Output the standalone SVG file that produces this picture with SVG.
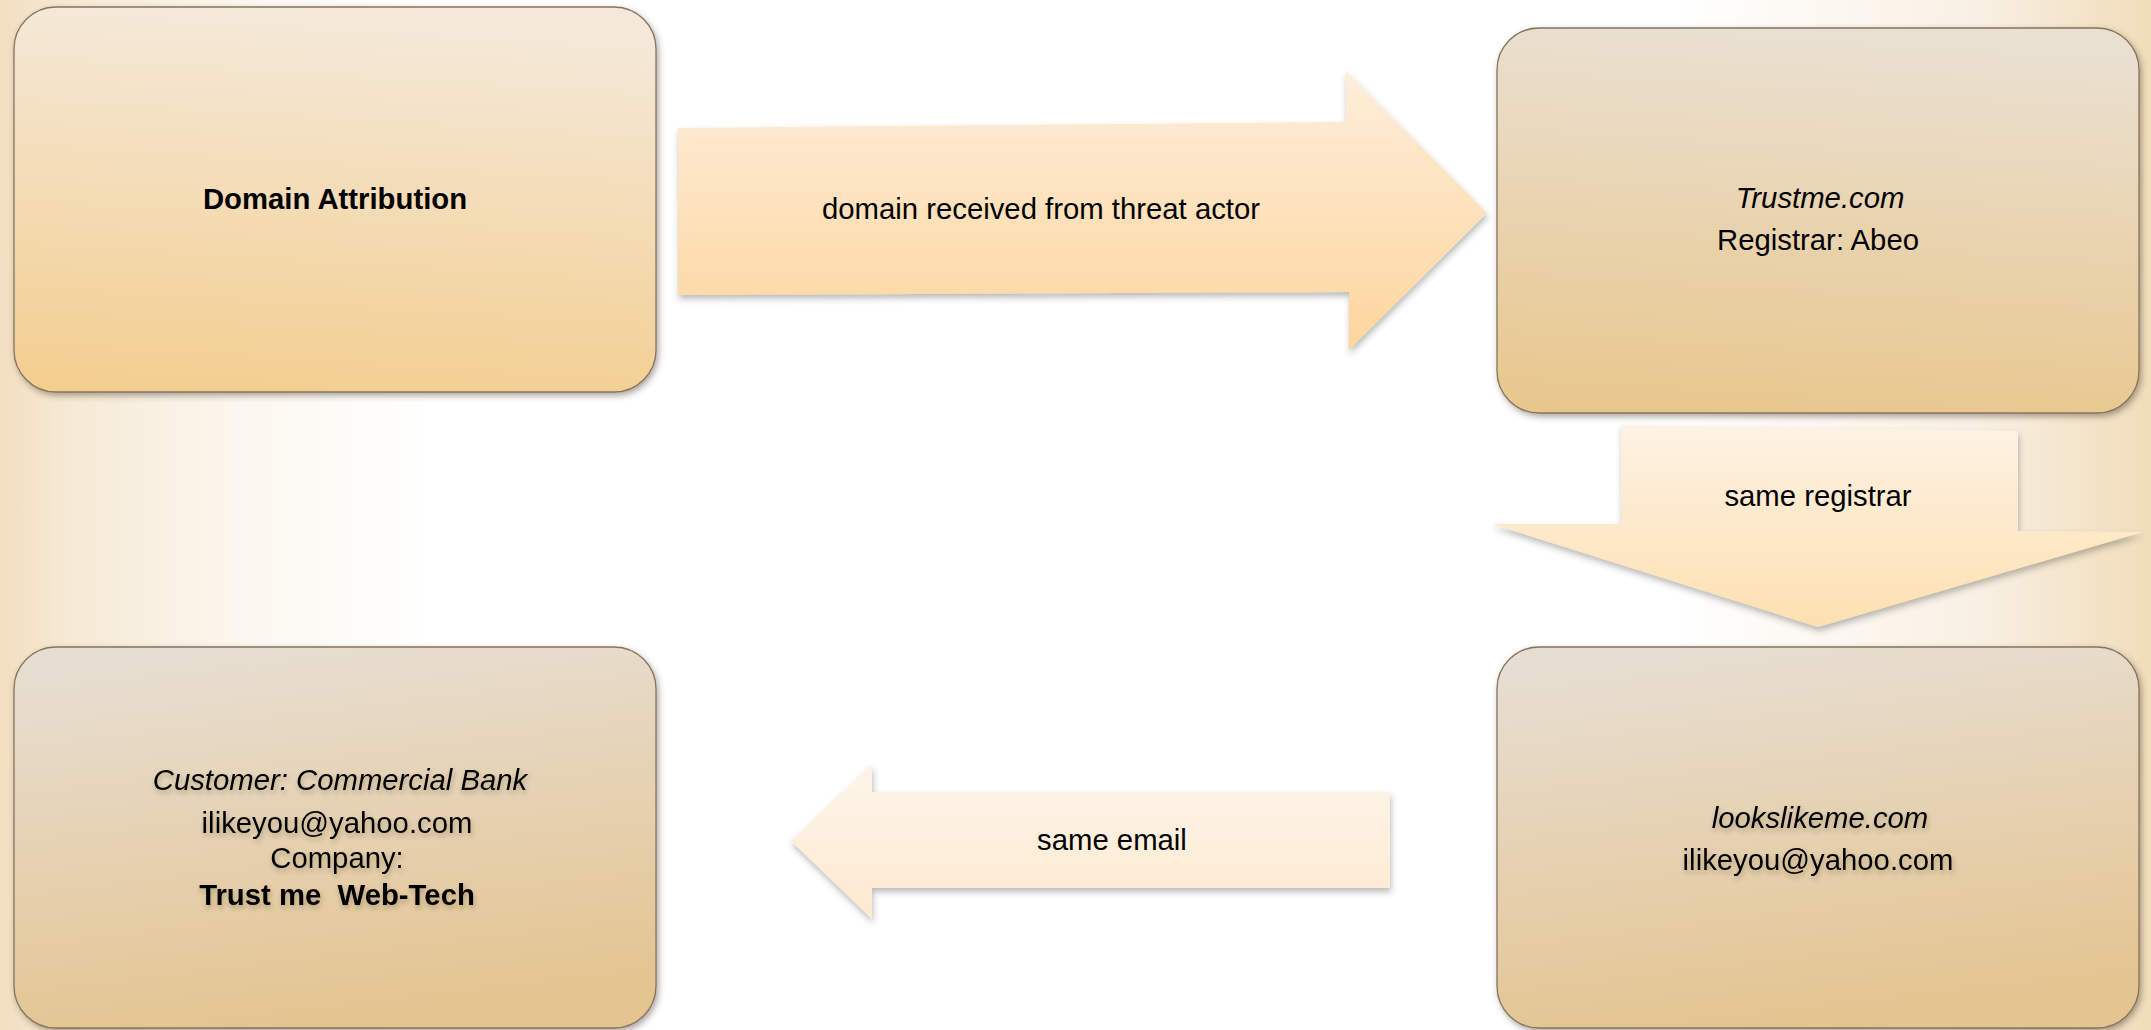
<svg xmlns="http://www.w3.org/2000/svg" width="2151" height="1030" viewBox="0 0 2151 1030">
  <defs>
    <style>
      .lbl { font-family: "Liberation Sans", Arial, sans-serif; font-size: 29.3px; fill: #000; text-anchor: middle; }
      .b { font-weight: bold; }
      .i { font-style: italic; }
      .box { stroke: #85745f; stroke-width: 1.3; }
    </style>
    <!-- page background: white centre with warm edges -->
    <linearGradient id="bg" x1="0" y1="0" x2="1" y2="0">
      <stop offset="0" stop-color="#f1dfbf"/>
      <stop offset="0.03" stop-color="#f6e9d4"/>
      <stop offset="0.12" stop-color="#fcf8f1"/>
      <stop offset="0.2" stop-color="#ffffff"/>
      <stop offset="0.78" stop-color="#ffffff"/>
      <stop offset="0.92" stop-color="#f9f0e3"/>
      <stop offset="1" stop-color="#f0ddb9"/>
    </linearGradient>
    <linearGradient id="gBox1" x1="0.3" y1="0" x2="0.2" y2="1">
      <stop offset="0" stop-color="#f4e9d9"/>
      <stop offset="1" stop-color="#f3ce8f"/>
    </linearGradient>
    <linearGradient id="gBox2" x1="0.3" y1="0" x2="0.2" y2="1">
      <stop offset="0" stop-color="#eae0d1"/>
      <stop offset="1" stop-color="#e8c78c"/>
    </linearGradient>
    <linearGradient id="gBox3" x1="0.3" y1="0" x2="0.5" y2="1">
      <stop offset="0" stop-color="#e7ded2"/>
      <stop offset="1" stop-color="#e4c48f"/>
    </linearGradient>
    <linearGradient id="gArrR" x1="0" y1="0" x2="0" y2="1">
      <stop offset="0" stop-color="#fdeedb"/>
      <stop offset="1" stop-color="#fdd59c"/>
    </linearGradient>
    <linearGradient id="gArrD" x1="0" y1="0" x2="0" y2="1">
      <stop offset="0" stop-color="#fdf2e4"/>
      <stop offset="1" stop-color="#fde0b0"/>
    </linearGradient>
    <linearGradient id="gArrL" x1="0" y1="0" x2="0" y2="1">
      <stop offset="0" stop-color="#fdf5ea"/>
      <stop offset="1" stop-color="#fde9cf"/>
    </linearGradient>
    <filter id="boxShadow" x="-5%" y="-5%" width="110%" height="112%">
      <feDropShadow dx="2" dy="3" stdDeviation="3" flood-color="#4a3a2a" flood-opacity="0.45"/>
    </filter>
    <filter id="arrowShadow" x="-5%" y="-10%" width="110%" height="125%">
      <feDropShadow dx="1" dy="4" stdDeviation="3" flood-color="#3a3a3a" flood-opacity="0.35"/>
    </filter>
    <filter id="textShadow" x="-10%" y="-30%" width="120%" height="170%">
      <feDropShadow dx="1" dy="3" stdDeviation="2.5" flood-color="#3a2a1a" flood-opacity="0.3"/>
    </filter>
  </defs>

  <rect x="0" y="0" width="2151" height="1030" fill="url(#bg)"/>

  <!-- connectors: block arrows with their captions -->
  <g id="connectors">
    <g id="arrow-received">
      <path d="M678,128 L1346,122 L1346,71 L1487,213 L1349,350 L1349,292 L678,295 Z" fill="url(#gArrR)" filter="url(#arrowShadow)"/>
      <text class="lbl" x="1041" y="219">domain received from threat actor</text>
    </g>
    <g id="arrow-registrar">
      <path d="M1621,425 L2018,431 L2018,531 L2143,532 L1818,627 L1492,524 L1621,524 Z" fill="url(#gArrD)" filter="url(#arrowShadow)"/>
      <text class="lbl" x="1818" y="506">same registrar</text>
    </g>
    <g id="arrow-email">
      <path d="M1390,792 L872,792 L872,764 L791,841 L872,919 L872,888 L1390,888 Z" fill="url(#gArrL)" filter="url(#arrowShadow)"/>
      <text class="lbl" x="1112" y="850">same email</text>
    </g>
  </g>

  <g id="node-domain-attribution">
    <rect class="box" x="14" y="7" width="642" height="385" rx="42" fill="url(#gBox1)" filter="url(#boxShadow)"/>
    <text class="lbl b" x="335" y="209">Domain Attribution</text>
  </g>

  <g id="node-trustme">
    <rect class="box" x="1497" y="28" width="642" height="385" rx="42" fill="url(#gBox2)" filter="url(#boxShadow)"/>
    <text class="lbl i" x="1820" y="208">Trustme.com</text>
    <text class="lbl" x="1818" y="250">Registrar: Abeo</text>
  </g>

  <g id="node-lookslikeme">
    <rect class="box" x="1497" y="647" width="642" height="381" rx="42" fill="url(#gBox3)" filter="url(#boxShadow)"/>
    <g filter="url(#textShadow)">
      <text class="lbl i" x="1820" y="828">lookslikeme.com</text>
      <text class="lbl" x="1818" y="870">ilikeyou@yahoo.com</text>
    </g>
  </g>

  <g id="node-customer">
    <rect class="box" x="14" y="647" width="642" height="381" rx="42" fill="url(#gBox3)" filter="url(#boxShadow)"/>
    <g filter="url(#textShadow)">
      <text class="lbl i" x="340" y="790">Customer: Commercial Bank</text>
      <text class="lbl" x="337" y="833">ilikeyou@yahoo.com</text>
      <text class="lbl" x="337" y="868">Company:</text>
      <text class="lbl b" x="337" y="905" xml:space="preserve">Trust me  Web-Tech</text>
    </g>
  </g>
</svg>
